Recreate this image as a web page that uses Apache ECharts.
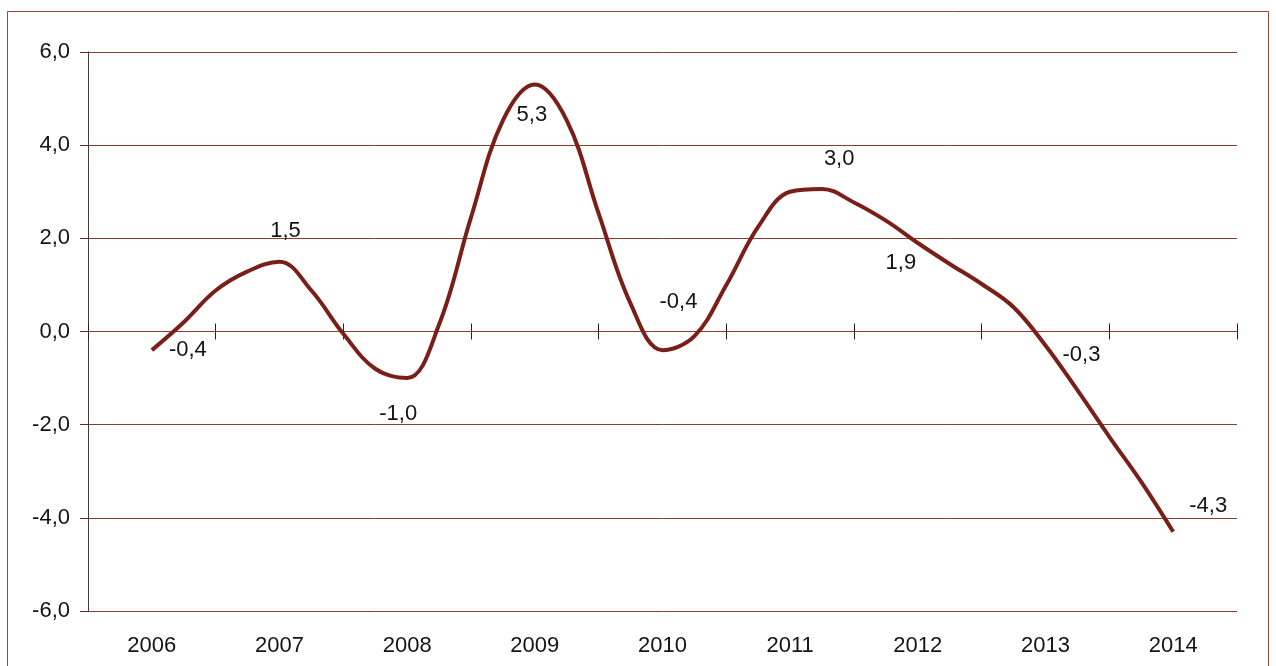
<!DOCTYPE html>
<html>
<head>
<meta charset="utf-8">
<script src="https://cdn.jsdelivr.net/npm/echarts@6/dist/echarts.min.js"></script>
<style>
html,body{margin:0;padding:0;background:#fff;}
#chart{width:1276px;height:666px;}
</style>
</head>
<body>
<div id="chart"></div>
<script>
// Year categories (axis labels)
const years = ['2006','2007','2008','2009','2010','2011','2012','2013','2014'];
// Y-axis tick values
const yTicks = [-6, -4, -2, 0, 2, 4, 6];
// Quarterly values (every 4th value is the labelled annual value)
const quarterValues = [
  -0.4, 0.2, 0.88, 1.29,
   1.5, 0.88, -0.05, -0.8,
  -1.0, 0.15, 2.45, 4.53,
   5.3, 4.53, 2.53, 0.6,
  -0.4, -0.1, 1.0, 2.25,
   3.0, 3.06, 2.77, 2.38,
   1.9, 1.45, 1.02, 0.52,
  -0.3, -1.26, -2.26, -3.23,
  -4.3
];

const fmt = v => v.toFixed(1).replace('.', ',');
const FONT = 'Arial, "Liberation Sans", sans-serif';
const gridColor = '#8a3d2e';
const lineColor = '#7a1f17';
const textColor = '#141414';

// label placement (offset of label centre from the point, px)
const labelOffsets = [
  [36, 0], [6, -31], [-9, 36], [-3, 30], [16, -48],
  [49, -33], [-17, 20], [36, 9], [35, -26]
];

const lineData = quarterValues.map((v, i) => [i, v]);
const annualData = [];
quarterValues.forEach((v, i) => {
  if (i % 4 === 0) {
    const k = i / 4;
    annualData.push({
      value: [i, v],
      label: { offset: labelOffsets[k] }
    });
  }
});

const chart = echarts.init(document.getElementById('chart'), null, {renderer: 'canvas'});
chart.setOption({
  animation: false,
  backgroundColor: '#ffffff',
  graphic: [{
    type: 'rect',
    shape: { x: 7.5, y: 11.5, width: 1261, height: 700 },
    style: { fill: 'none', stroke: '#8f4a3a', lineWidth: 1 },
    silent: true, z: -1
  }],
  grid: { left: 88, right: 39, top: 52, bottom: 55, containLabel: false },
  xAxis: [
    { // year labels at the bottom
      type: 'category', data: years, position: 'bottom', boundaryGap: true,
      axisLine: { show: false, onZero: false },
      axisTick: { show: false },
      splitLine: { show: false },
      axisLabel: { fontSize: 22, color: textColor, fontFamily: FONT, margin: 24 }
    },
    { // hidden value axis used to place the quarterly points
      type: 'value', min: -2, max: 34, show: false,
      axisLine: { onZero: false }, splitLine: { show: false }
    },
    { // zero axis line with outward ticks
      type: 'category', data: years, position: 'bottom', boundaryGap: true,
      axisLine: { show: true, onZero: true, onZeroAxisIndex: 0, lineStyle: { color: gridColor, width: 1 } },
      axisTick: { show: true, inside: false, length: 8, lineStyle: { color: '#2a2020', width: 1 } },
      axisLabel: { show: false },
      splitLine: { show: false }
    },
    { // inward ticks on the zero line
      type: 'category', data: years, position: 'bottom', boundaryGap: true,
      axisLine: { show: false, onZero: true, onZeroAxisIndex: 0 },
      axisTick: { show: true, inside: true, length: 8, lineStyle: { color: '#2a2020', width: 1 } },
      axisLabel: { show: false },
      splitLine: { show: false }
    }
  ],
  yAxis: [{
    type: 'value',
    min: yTicks[0], max: yTicks[yTicks.length - 1], interval: 2,
    axisLine: { show: true, onZero: false, lineStyle: { color: '#4a3530', width: 1 } },
    axisTick: { show: true, inside: false, length: 8, lineStyle: { color: '#4a3530' } },
    splitLine: { show: true, lineStyle: { color: gridColor, width: 1 } },
    axisLabel: { fontSize: 22, color: textColor, fontFamily: FONT, margin: 18, formatter: v => fmt(v) }
  }],
  series: [
    {
      type: 'line',
      xAxisIndex: 1, yAxisIndex: 0,
      data: lineData,
      smooth: 0.38,
      showSymbol: false,
      symbol: 'none',
      lineStyle: { color: lineColor, width: 4 },
      silent: true,
      z: 3
    },
    {
      type: 'scatter',
      xAxisIndex: 1, yAxisIndex: 0,
      data: annualData,
      symbolSize: 0,
      itemStyle: { color: 'rgba(0,0,0,0)', opacity: 1 },
      silent: true,
      label: {
        show: true, position: 'inside',
        fontSize: 22, color: textColor, fontFamily: FONT,
        formatter: p => fmt(p.value[1])
      },
      z: 4
    }
  ]
});
</script>
</body>
</html>
